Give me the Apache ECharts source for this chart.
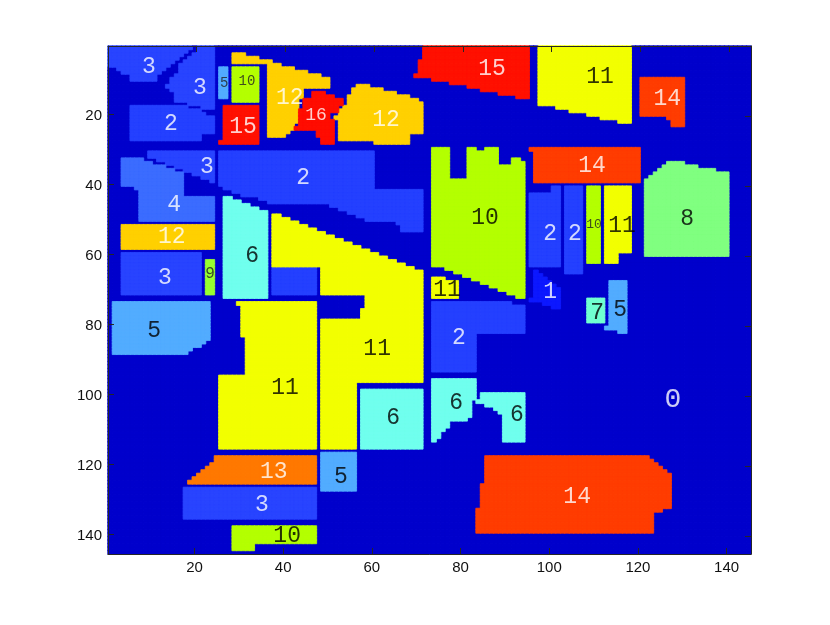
<!DOCTYPE html>
<html><head><meta charset="utf-8">
<script src="https://cdn.jsdelivr.net/npm/echarts@6/dist/echarts.min.js"></script>
<style>html,body{margin:0;padding:0;background:#fff}#c{width:830px;height:625px}</style>
</head><body><div id="c"></div>
<script>
// Runs of cells per class: [firstRow, lastRow, firstCol, lastCol]
const class1 = [[65,65,97,97],[66,66,97,98],[67,67,97,99],[68,68,97,100],[69,69,97,101],[70,72,97,102],[73,73,96,102],[74,74,99,102],[75,75,101,102]];
const class2 = [
 [18,18,6,18],[19,19,6,21],[20,20,6,22],[21,25,6,24],[26,27,6,21],
 [31,40,26,60],[41,41,27,60],[42,42,29,71],[43,43,31,71],[44,44,35,71],[45,45,37,71],[46,46,51,71],[47,47,53,71],[48,48,55,71],[49,49,57,71],[50,50,59,71],[51,51,66,71],[52,53,67,71],
 [64,71,38,47],
 [74,74,74,91],[75,82,74,94],[83,93,74,83],
 [41,42,101,102],[43,63,96,102],[41,65,104,107]];
const class3 = [
 [1,1,1,19],[2,2,1,18],[3,3,1,17],[4,4,1,16],[5,5,1,15],[6,6,1,14],[7,7,3,13],[8,8,4,12],[9,10,6,11],
 [1,2,21,24],[3,3,20,24],[4,4,19,24],[5,5,18,24],[6,8,17,24],[9,9,16,24],[10,11,15,24],[12,12,14,24],[13,13,15,24],[14,16,16,24],[17,17,19,24],[18,18,22,24],
 [31,32,10,24],[33,33,12,24],[34,34,14,24],[35,35,16,24],[36,36,18,24],[37,37,20,24],[38,38,22,24],[39,39,24,24],
 [60,71,4,21],[127,135,18,47]];
const class4 = [[33,33,4,8],[34,34,4,10],[35,35,4,13],[36,36,4,15],[37,40,4,17],[41,41,7,17],[42,43,8,17],[44,50,8,24]];
const class5 = [[7,15,26,27],[74,84,2,23],[85,85,2,22],[86,86,2,21],[87,87,2,19],[88,88,2,18],[117,127,49,56],[68,80,114,117],[81,81,113,117],[82,82,116,117]];
const class6 = [
 [44,44,27,28],[45,45,27,30],[46,46,27,32],[47,47,27,34],[48,72,27,36],
 [99,115,58,71],
 [96,101,74,83],[102,106,74,82],[107,107,74,81],[108,109,74,77],[110,110,74,76],[111,112,74,75],[113,113,74,74],
 [100,101,85,94],[102,102,84,94],[103,103,86,94],[104,104,88,94],[105,105,89,94],[106,113,90,94]];
const class7 = [[73,79,109,112]];
const class8 = [[34,34,127,130],[35,35,126,133],[36,36,125,137],[37,37,124,140],[38,38,123,140],[39,60,122,140]];
const class9 = [[62,71,23,24]];
const class10 = [
 [7,16,29,34],
 [30,30,74,77],[30,30,82,83],[30,30,86,88],[31,32,74,77],[31,32,82,88],[33,33,74,77],[33,33,82,88],[33,33,92,93],[34,34,74,77],[34,34,82,88],[34,34,92,94],[35,38,74,77],[35,38,82,94],
 [39,63,74,94],[64,64,77,94],[65,65,79,94],[66,66,81,94],[67,67,83,94],[68,68,85,94],[69,69,87,94],[70,70,89,94],[71,71,91,94],[72,72,93,94],
 [41,62,109,111],[138,142,29,47],[143,144,29,33]];
const class11 = [
 [49,49,38,39],[50,50,38,41],[51,51,38,43],[52,52,38,45],[53,53,38,47],[54,54,38,49],[55,55,38,51],[56,56,38,53],[57,57,38,55],[58,58,38,57],[59,59,38,59],[60,60,38,61],[61,61,38,63],[62,62,38,65],[63,63,38,67],
 [64,64,49,69],[65,71,49,71],[72,75,59,71],[76,78,58,71],[79,96,49,71],[97,115,49,56],
 [74,74,30,47],[75,83,31,47],[84,94,32,47],[95,115,26,47],
 [67,67,74,76],[68,72,74,79],
 [1,17,98,118],[18,18,102,118],[19,19,105,118],[20,20,109,118],[21,21,112,118],[22,22,116,118],
 [41,59,113,118],[60,62,113,115]];
const class12 = [
 [3,3,29,31],[4,4,29,34],[5,5,29,37],[6,6,37,39],[7,7,37,42],[8,8,37,45],[9,9,37,48],[10,12,37,50],[13,15,37,44],[16,22,37,43],[23,24,37,42],[25,25,37,41],[26,26,37,40],
 [12,12,57,59],[13,13,56,62],[14,14,56,65],[15,15,55,68],[16,16,55,70],[17,17,55,71],[18,18,54,71],[19,20,53,71],[21,21,52,71],[22,25,53,71],[26,27,53,68],[28,28,61,68],
 [52,58,4,24]];
const class13 = [[118,119,25,47],[120,120,24,47],[121,121,23,47],[122,122,22,47],[123,123,21,47],[124,124,20,47],[125,125,19,47]];
const class14 = [
 [10,20,121,130],[21,21,127,130],[22,23,128,130],
 [30,30,96,120],[31,39,97,120],
 [118,118,86,122],[119,119,86,123],[120,120,86,124],[121,121,86,125],[122,122,86,126],[123,125,86,127],[126,132,85,127],[133,133,84,125],[134,139,84,123]];
const class15 = [
 [18,27,27,34],[28,28,26,34],
 [1,4,72,95],[5,8,71,95],[9,9,70,95],[10,10,74,95],[11,11,78,95],[12,12,82,95],[13,13,85,95],[14,14,89,95],[15,15,93,95]];
const class16 = [[14,14,47,49],[15,15,47,51],[16,17,45,53],[18,18,45,52],[19,19,44,52],[20,21,44,50],[22,23,44,51],[24,24,43,51],[25,26,48,51],[27,28,49,51]];
const classRuns = [null,class1,class2,class3,class4,class5,class6,class7,class8,class9,class10,class11,class12,class13,class14,class15,class16];

const classColors = ['#0000CC','#0C18FF','#2440FF','#2844FF','#3B6CFF','#52ACFF','#70FFEE','#70FFD0','#80FF80','#98FF30','#B4FF00','#F2FF00','#FFD000','#FF7800','#FF3C00','#FF1000','#FF0C00'];

const labelText = ['3','3','5','10','12','16','12','15','15','11','14','2','3','2','14','4','10','11','10','2','2','8','12','6','3','9','11','1','7','5','5','2','11','11','0','6','6','6','13','5','3','14','10'];
const labelX = [9.75,21.25,26.7,31.85,41.5,47.4,63.2,30.95,87.1,111.45,126.6,14.7,22.8,44.5,109.65,15.4,85.5,116.4,110.1,100.2,105.8,131.1,14.9,33,13.35,23.5,76.95,100.2,110.8,116,10.9,79.65,61.2,40.4,127.9,79,64.8,92.7,37.9,53,35.2,106.3,40.9];
const labelY = [6.5,12.5,11.06,10.5,15.35,20.2,21.6,23.6,7.05,9.35,15.6,22.75,35.05,38.2,34.75,45.9,49.6,51.9,51.6,54.1,54.1,49.9,55,60.45,66.7,65.6,70.15,70.7,76.7,75.85,81.85,83.85,87,98.1,101.55,102.4,106.7,105.85,122.1,123.5,131.5,129.25,140.4];
const labelSize = [23,23,14,14,23,18,23,23,23,23,23,23,23,23,23,23,23,23,13,23,23,23,23,23,23,16,23,23,23,23,23,23,23,23,28,23,23,23,23,23,23,23,23];
const whiteLabels = ['0','1','2','3','4','12','13','14','15','16'];

const N = 145;
const ticks = [20,40,60,80,100,120,140];
const cats = []; for (let i=1;i<=N;i++) cats.push(String(i));
const grid = []; for (let r=0;r<N;r++){ grid.push(new Array(N).fill(0)); }
classRuns.forEach((runs,k)=>{ if(!runs) return; runs.forEach(([r1,r2,c1,c2])=>{ for(let r=r1;r<=r2;r++) for(let c=c1;c<=c2;c++) grid[r-1][c-1]=k; }); });
const cellsByClass = classColors.map(()=>[]);
for (let r=0;r<N;r++) for (let c=0;c<N;c++) cellsByClass[grid[r][c]].push([c,r,grid[r][c]]);

const tickFn = (i)=> ticks.includes(i+1);
const lineCol = '#262626';
const scatterData = labelText.map((t,i)=>({
  value:[labelX[i],labelY[i]],
  label:{show:true,formatter:t,position:'inside',fontSize:labelSize[i],
    fontFamily:'Liberation Mono',
    color:(whiteLabels.includes(t)&&labelSize[i]>=18)?'#fff':(labelSize[i]<18?'#222':'#000')}
}));
const chart = echarts.init(document.getElementById('c'),null,{renderer:'canvas'});
chart.setOption({
  animation:false,
  backgroundColor:'#fff',
  grid:{left:108,top:46,width:643,height:508,containLabel:false},
  xAxis:[
   {type:'category',data:cats,position:'bottom',boundaryGap:true,z:10,
    axisLine:{show:true,onZero:false,lineStyle:{color:lineCol,width:1}},
    axisTick:{show:true,inside:true,length:6,alignWithLabel:true,interval:tickFn,lineStyle:{color:lineCol}},
    axisLabel:{show:true,interval:tickFn,color:'#111',fontSize:15,fontFamily:'Liberation Sans',margin:6},
    splitLine:{show:false}},
   {type:'value',min:0.5,max:145.5,interval:20,position:'top',z:10,
    axisLine:{show:true,onZero:false,lineStyle:{color:lineCol,width:1}},
    axisTick:{show:true,inside:true,length:6,lineStyle:{color:lineCol}},
    axisLabel:{show:false},splitLine:{show:false}}],
  yAxis:[
   {type:'category',data:cats,inverse:true,position:'left',boundaryGap:true,z:10,
    axisLine:{show:true,onZero:false,lineStyle:{color:lineCol,width:1}},
    axisTick:{show:true,inside:true,length:6,alignWithLabel:true,interval:tickFn,lineStyle:{color:lineCol}},
    axisLabel:{show:true,interval:tickFn,color:'#111',fontSize:15,fontFamily:'Liberation Sans',margin:6,
      formatter:(v)=>'{s|}\n{a|'+v+'}',
      rich:{s:{height:3,lineHeight:3,fontSize:1},a:{fontSize:15,fontFamily:'Liberation Sans',color:'#111'}}},
    splitLine:{show:false}},
   {type:'value',min:0.5,max:145.5,interval:20,inverse:true,position:'right',z:10,
    axisLine:{show:true,onZero:false,lineStyle:{color:lineCol,width:1}},
    axisTick:{show:true,inside:true,length:6,lineStyle:{color:lineCol}},
    axisLabel:{show:false},splitLine:{show:false}}],
  series:cellsByClass.map((cells,k)=>({
    type:'heatmap',name:String(k),data:cells,xAxisIndex:0,yAxisIndex:0,progressive:0,silent:true,
    itemStyle:{color:classColors[k],borderColor:classColors[k],borderWidth:0.8},emphasis:{disabled:true}
  })).concat([
   {type:'scatter',data:scatterData,xAxisIndex:1,yAxisIndex:1,symbolSize:0,silent:true,z:5}])
});
</script></body></html>
